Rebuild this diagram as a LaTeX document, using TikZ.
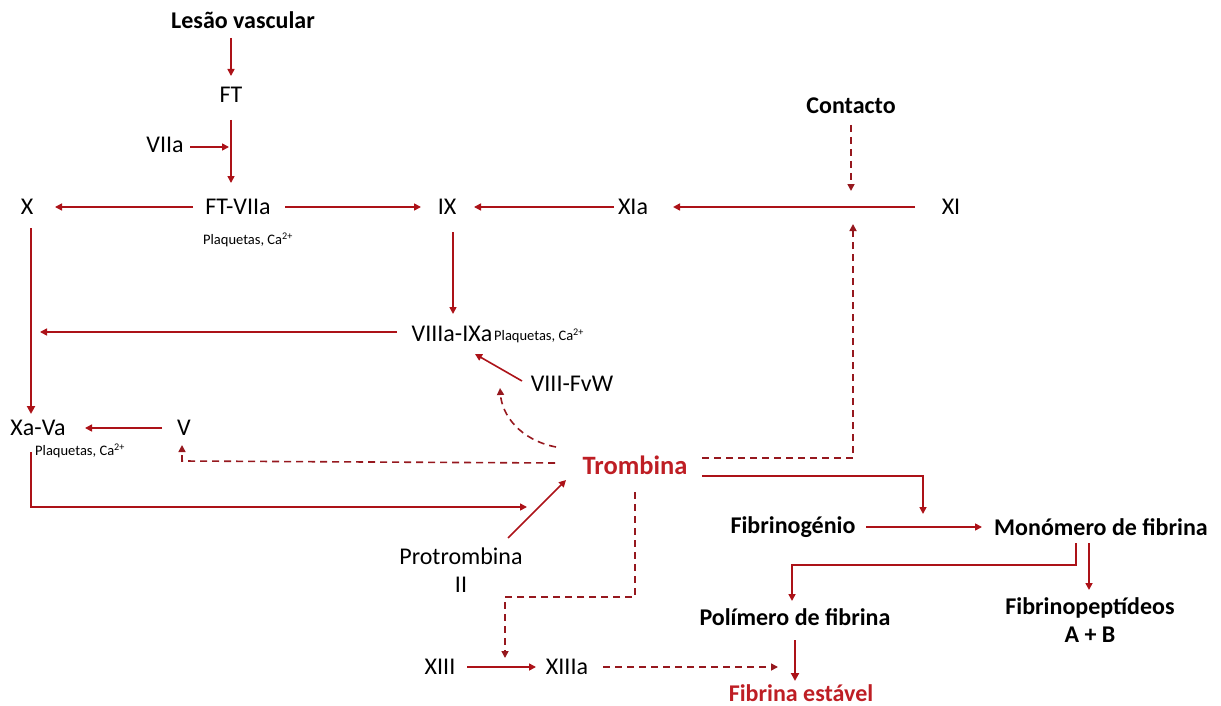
\documentclass[tikz,border=0pt]{standalone}
\usepackage{fontspec}
\setmainfont{Carlito}
\usetikzlibrary{arrows.meta}
\definecolor{ln}{RGB}{172,18,24}
\definecolor{dl}{RGB}{150,24,30}
\definecolor{rt}{RGB}{190,30,36}
\tikzset{
  lbl/.style={font=\fontsize{24}{28}\selectfont, inner sep=2pt},
  blbl/.style={font=\fontsize{24}{28}\selectfont\bfseries, inner sep=2pt},
  sm/.style={font=\fontsize{14.5}{16}\selectfont, inner sep=1pt},
  arr/.style={draw=ln, line width=1.6pt, -{Triangle[length=7pt,width=7pt]}},
  tarr/.style={draw=ln, line width=2.4pt, -{Triangle[length=8pt,width=8pt]}},
  darr/.style={draw=dl, line width=1.6pt, dash pattern=on 7pt off 5pt, -{Triangle[length=7pt,width=7pt]}},
}
\begin{document}
\begin{tikzpicture}[x=1pt,y=-1pt]
\useasboundingbox (0,0) rectangle (1221,706);
% nodes
\node[blbl] (lesao) at (243,20) {Lesão vascular};
\node[lbl] (ft) at (231,95) {FT};
\node[lbl] (viia) at (165,145) {VIIa};
\node[lbl] (ftviia) at (238,207) {FT-VIIa};
\node[sm] (pl1) at (248,240) {Plaquetas, Ca\textsuperscript{2+}};
\node[lbl] (x) at (27,207) {X};
\node[lbl] (ix) at (447,207) {IX};
\node[lbl] (xia) at (633,207) {XIa};
\node[lbl] (xi) at (951,207) {XI};
\node[blbl] (contacto) at (851,106) {Contacto};
\node[lbl] (viiiaixa) at (452,334) {VIIIa-IXa};
\node[sm, anchor=west] (pl2) at (493,336) {Plaquetas, Ca\textsuperscript{2+}};
\node[lbl] (viiifvw) at (572,384) {VIII-FvW};
\node[lbl] (xava) at (38,428) {Xa-Va};
\node[sm, anchor=west] (pl3) at (34,451) {Plaquetas, Ca\textsuperscript{2+}};
\node[lbl] (v) at (184,428) {V};
\node[font=\fontsize{26.5}{30}\selectfont\bfseries, text=rt] (trombina) at (635,465) {Trombina};
\node[lbl, align=center] (protr) at (461,570) {Protrombina\\II};
\node[blbl] (fibrinog) at (793,527) {Fibrinogénio};
\node[blbl] (monomero) at (1101,527) {Monómero de fibrina};
\node[blbl] (polimero) at (795,617) {Polímero de fibrina};
\node[blbl, align=center] (fibpep) at (1090,620) {Fibrinopeptídeos\\A + B};
\node[blbl, text=rt] (fibest) at (801,693) {Fibrina estável};
\node[lbl] (xiii) at (440,667) {XIII};
\node[lbl] (xiiia) at (567,667) {XIIIa};
% coordinates
\coordinate (c1) at (40,332);
\coordinate (vtail) at (182,461);
\coordinate (xtail) at (31,452);
\coordinate (xbot) at (31,507);
\coordinate (tromIn) at (527,507);
\coordinate (tR1) at (853,458);
\coordinate (tD1) at (635,597);
\coordinate (tD2) at (505,597);
\coordinate (tS1) at (923,476);
\coordinate (m1) at (1076,565);
\coordinate (m2) at (792,565);
% connectors
\draw[arr] (231,38) -- (231,76);
\draw[arr] (231,120) -- (231,183);
\draw[arr] (190,147) -- (229,147);
\draw[arr] (193,207) -- (55,207);
\draw[arr] (285,207) -- (421,207);
\draw[arr] (614,207) -- (474,207);
\draw[arr] (915,207) -- (673,207);
\draw[darr] (851,125) -- (851,191);
\draw[arr] (453,232) -- (453,314);
\draw[arr] (397,332) -- (c1);
\draw[arr] (522,381) -- (475,354);
\draw[tarr] (31,228) -- (31,414);
\draw[arr] (162,428) -- (85,428);
\draw[darr] (555,463) -- (vtail) -- (182,445);
\draw[darr] (556,447) .. controls (520,440) and (502,415) .. (500,388);
\draw[arr] (xtail) -- (xbot) -- (tromIn);
\draw[arr] (508,538) -- (566,480);
\draw[darr] (702,458) -- (tR1) -- (853,224);
\draw[darr] (635,492) -- (tD1) -- (tD2) -- (505,658);
\draw[arr] (702,476) -- (tS1) -- (923,514);
\draw[arr] (866,527) -- (982,527);
\draw[arr] (1076,543) -- (m1) -- (m2) -- (792,601);
\draw[arr] (1089,543) -- (1089,590);
\draw[tarr] (795,640) -- (795,681);
\draw[arr] (467,667) -- (536,667);
\draw[darr] (603,667) -- (778,667);
\end{tikzpicture}
\end{document}
